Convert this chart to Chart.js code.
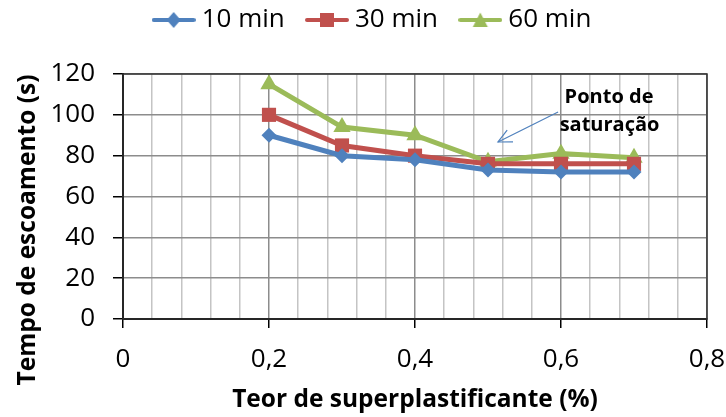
<!DOCTYPE html>
<html>
<head>
<meta charset="utf-8">
<script src="https://cdn.jsdelivr.net/npm/chart.js@4.4.1/dist/chart.umd.min.js"></script>
<style>
  html, body { margin: 0; padding: 0; background: #fff; }
  #wrap { width: 726px; height: 417px; }
</style>
</head>
<body>
<div id="wrap"><canvas id="chart" width="726" height="417"></canvas></div>
<script>
// values
const teor = [0.2, 0.3, 0.4, 0.5, 0.6, 0.7];
const min10 = [90, 80, 78, 73, 72, 72];
const min30 = [100, 85, 80, 76, 76, 76];
const min60 = [115, 94, 90, 77, 81, 79];
const seriesNames = ["10 min", "30 min", "60 min"];
const xTitle = "Teor de superplastificante (%)";
const yTitle = "Tempo de escoamento (s)";
const noteLines = ["Ponto de", "saturação"];

const blue = "#4F81BD", red = "#C0504D", green = "#9BBB59";
const font = "'Open Sans', 'Liberation Sans', sans-serif";

function toPoints(ys) {
  return teor.map((x, i) => ({ x: x, y: ys[i] }));
}

// little line+marker image for the legend
function legendIcon(color, style) {
  const c = document.createElement("canvas");
  c.width = 44; c.height = 18;
  const g = c.getContext("2d");
  g.strokeStyle = color; g.lineWidth = 4;
  g.lineCap = "round";
  g.beginPath(); g.moveTo(2, 9); g.lineTo(42, 9); g.stroke();
  g.fillStyle = color;
  g.beginPath();
  if (style === "rectRot") {
    g.moveTo(22, 1); g.lineTo(29, 9); g.lineTo(22, 17); g.lineTo(15, 9);
  } else if (style === "rect") {
    g.rect(15, 2, 14, 14);
  } else {
    g.moveTo(22, 1.5); g.lineTo(29.5, 16); g.lineTo(14.5, 16);
  }
  g.closePath(); g.fill();
  return c;
}

const isMajorX = (v) => Math.abs(v / 0.2 - Math.round(v / 0.2)) < 1e-6;

// y title, arrow + note text, plot frame
const notePlugin = {
  id: "note",
  afterInit(chart) {
    // keep the legend band as tall as in the picture
    const lg = chart.legend;
    const fit = lg.fit.bind(lg);
    lg.fit = function () { fit(); this.height = 74; };
  },
  afterDatasetsDraw(chart) {
    const { ctx, scales } = chart;
    const x = scales.x, y = scales.y;
    ctx.save();
    // plot border
    const ca = chart.chartArea;
    ctx.strokeStyle = "#333";
    ctx.lineWidth = 1.5;
    ctx.strokeRect(ca.left, ca.top, ca.right - ca.left, ca.bottom - ca.top);

    ctx.fillStyle = "#000";
    ctx.font = "bold 20px " + font;
    ctx.textAlign = "center";
    ctx.textBaseline = "middle";
    ctx.fillText(noteLines[0], x.getPixelForValue(0.6658), y.getPixelForValue(108.6));
    ctx.fillText(noteLines[1], x.getPixelForValue(0.6665), y.getPixelForValue(94.9));
    // arrow
    const x1 = x.getPixelForValue(0.596), y1 = y.getPixelForValue(101.4);
    const x2 = x.getPixelForValue(0.5137), y2 = y.getPixelForValue(86.7);
    ctx.strokeStyle = blue;
    ctx.lineWidth = 1.2;
    ctx.beginPath(); ctx.moveTo(x1, y1); ctx.lineTo(x2, y2); ctx.stroke();
    const a = Math.atan2(y2 - y1, x2 - x1);
    ctx.beginPath();
    ctx.moveTo(x2 - 15 * Math.cos(a - 0.45), y2 - 15 * Math.sin(a - 0.45));
    ctx.lineTo(x2, y2);
    ctx.lineTo(x2 - 15 * Math.cos(a + 0.45), y2 - 15 * Math.sin(a + 0.45));
    ctx.stroke();

    // y axis title
    ctx.translate(28, 230);
    ctx.rotate(-Math.PI / 2);
    ctx.fillStyle = "#000";
    ctx.font = "bold 24.5px " + font;
    ctx.fillText(yTitle, 0, 0);
    ctx.restore();
  }
};

const styles = ["rectRot", "rect", "triangle"];
const radii = [7.5, 10, 10];
const colors = [blue, red, green];
const icons = colors.map((c, i) => legendIcon(c, styles[i]));

const datasets = [min10, min30, min60].map((ys, i) => ({
  label: seriesNames[i],
  data: toPoints(ys),
  borderColor: colors[i],
  backgroundColor: colors[i],
  borderWidth: 5,
  pointStyle: styles[i],
  pointRadius: radii[i],
  pointBorderWidth: 0,
  tension: 0,
  showLine: true
}));

new Chart(document.getElementById("chart"), {
  type: "scatter",
  data: { datasets: datasets },
  plugins: [notePlugin],
  options: {
    responsive: false,
    animation: false,
    layout: { padding: { left: 24, right: 0, top: 0, bottom: 0 } },
    plugins: {
      tooltip: { enabled: false },
      legend: {
        position: "top",
        labels: {
          font: { family: font, size: 26 },
          color: "#000",
          usePointStyle: true,
          pointStyleWidth: 30,
          boxHeight: 18,
          padding: 7,
          generateLabels(chart) {
            return chart.data.datasets.map((d, i) => ({
              text: i < 2 ? d.label + "   " : d.label,
              pointStyle: icons[i],
              fillStyle: d.borderColor,
              strokeStyle: d.borderColor,
              lineWidth: 0,
              fontColor: "#000",
              datasetIndex: i
            }));
          }
        }
      }
    },
    scales: {
      x: {
        type: "linear",
        min: 0, max: 0.8,
        afterFit: (s) => { s.height = 98; s.paddingRight = 19; s.paddingLeft = 0; },
        ticks: {
          stepSize: 0.04,
          autoSkip: false,
          maxRotation: 0,
          color: "#000",
          font: { family: font, size: 26 },
          padding: 16,
          callback: (v) => isMajorX(v) ? String(Math.round(v * 10) / 10).replace(".", ",") : ""
        },
        grid: {
          color: (c) => isMajorX(c.tick.value) ? "#8c8c8c" : "#c4c4c4",
          lineWidth: 1.5,
          tickColor: (c) => isMajorX(c.tick.value) ? "#000" : "rgba(0,0,0,0)",
          tickLength: 9
        },
        border: { color: "#000", width: 2 },
        title: {
          display: true,
          text: xTitle,
          color: "#000",
          font: { family: font, size: 24.5, weight: "bold" },
          padding: { top: 0, bottom: 2 }
        }
      },
      y: {
        min: 0, max: 120,
        afterFit: (s) => { s.width = 99; },
        ticks: {
          stepSize: 20,
          color: "#000",
          font: { family: font, size: 26 },
          padding: 18
        },
        grid: {
          color: "#8c8c8c",
          lineWidth: 1.5,
          tickColor: "#000",
          tickLength: 10
        },
        border: { color: "#000", width: 2 }
      }
    }
  }
});
</script>
</body>
</html>
